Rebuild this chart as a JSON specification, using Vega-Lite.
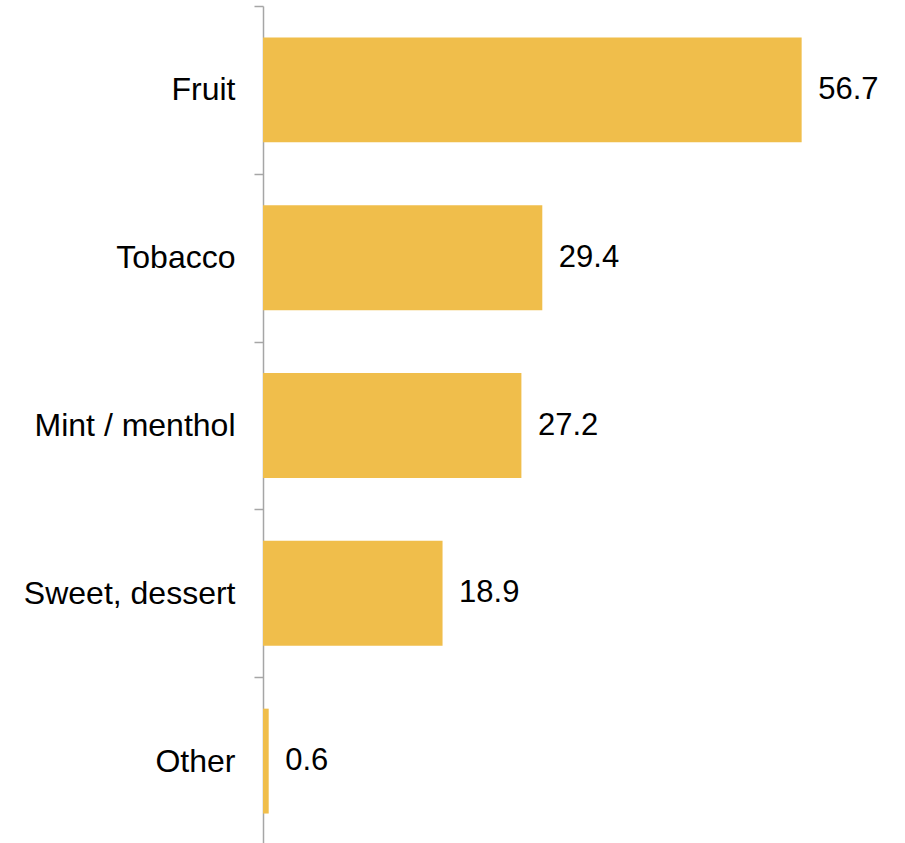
{
  "$schema": "https://vega.github.io/schema/vega-lite/v6.json",
  "autosize": "none",
  "width": 570,
  "height": 839,
  "padding": {"left": 263, "top": 6, "right": 72, "bottom": 0},
  "background": "white",
  "config": {"view": {"stroke": null}, "font": "Liberation Sans"},
  "data": {
    "values": [
      {"flavour": "Fruit", "value": 56.7},
      {"flavour": "Tobacco", "value": 29.4},
      {"flavour": "Mint / menthol", "value": 27.2},
      {"flavour": "Sweet, dessert", "value": 18.9},
      {"flavour": "Other", "value": 0.6}
    ]
  },
  "encoding": {
    "y": {
      "field": "flavour",
      "type": "nominal",
      "sort": null,
      "scale": {"paddingInner": 0, "paddingOuter": 0},
      "axis": {
        "title": null,
        "tickBand": "extent",
        "tickSize": 9,
        "tickColor": "#A6A6A6",
        "domainColor": "#A6A6A6",
        "tickWidth": 1.5,
        "domainWidth": 1.5,
        "labelPadding": 19,
        "labelLimit": 0,
        "labelFontSize": 32,
        "labelColor": "#000000",
        "labelFont": "Liberation Sans"
      }
    },
    "x": {
      "field": "value",
      "type": "quantitative",
      "scale": {"domain": [0, 60], "nice": false},
      "axis": null
    }
  },
  "layer": [
    {"mark": {"type": "bar", "color": "#F0BE4B", "height": {"band": 0.625}}},
    {
      "mark": {"type": "text", "align": "left", "baseline": "middle", "dx": 16.5, "fontSize": 31, "color": "#000000", "font": "Liberation Sans"},
      "encoding": {"text": {"field": "value", "type": "quantitative", "format": ".1f"}}
    }
  ]
}
